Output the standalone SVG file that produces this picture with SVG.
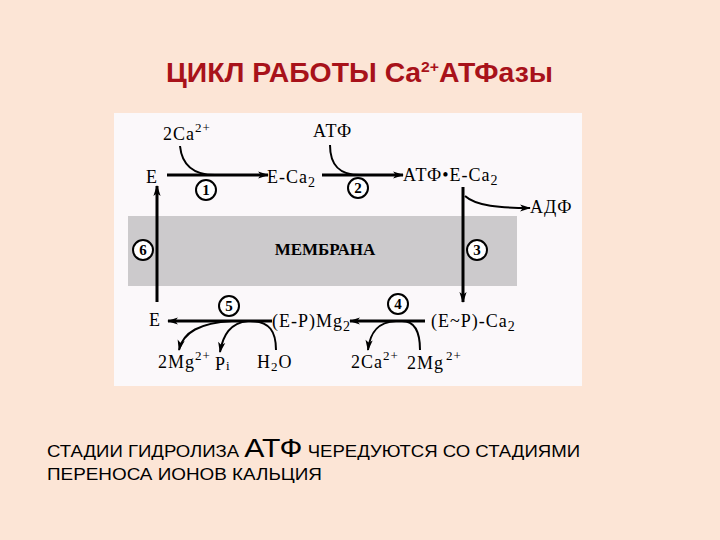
<svg xmlns="http://www.w3.org/2000/svg" width="720" height="540" viewBox="0 0 720 540">
<defs>
<marker id="ah" viewBox="0 0 12 10" refX="11" refY="5" markerWidth="12" markerHeight="9" markerUnits="userSpaceOnUse" orient="auto">
<path d="M0,1 L12,5 L0,9 L3,5 Z" fill="#000"/>
</marker>
<style>
.t{font-family:"Liberation Serif","Times New Roman",serif;font-size:18px;letter-spacing:1px;fill:#000}
.c{fill:#fff;stroke:#000;stroke-width:2}
.n{font-family:"Liberation Serif",serif;font-size:15px;font-weight:bold;text-anchor:middle;fill:#000}
.ln{fill:none;stroke:#000;stroke-width:3}
.cv{fill:none;stroke:#000;stroke-width:2}
.s{font-family:"Liberation Sans",Arial,sans-serif;font-size:16px;fill:#000}
</style>
</defs>
<rect width="720" height="540" fill="#FCE5D6"/>
<rect x="114" y="113" width="468" height="273" fill="#FBF8FA"/>
<rect x="128" y="216" width="389" height="70" fill="#CCCACC"/>
<text x="166" y="82" textLength="387" lengthAdjust="spacingAndGlyphs" font-family="Liberation Sans,Arial,sans-serif" font-weight="bold" font-size="27" fill="#A8121A">ЦИКЛ РАБОТЫ Ca<tspan font-size="15" dy="-10">2+</tspan><tspan dy="10">АТФазы</tspan></text>
<text x="325" y="255" text-anchor="middle" font-family="Liberation Serif,serif" font-weight="bold" font-size="17">МЕМБРАНА</text>
<g id="connectors">
<line class="ln" x1="167" y1="175" x2="268" y2="175" marker-end="url(#ah)"/>
<path class="cv" d="M180,146 C182,166 194,175 215,175"/>
<line class="ln" x1="322" y1="175" x2="403" y2="175" marker-end="url(#ah)"/>
<path class="cv" d="M330,145 C330,166 340,175 360,175"/>
<line class="ln" x1="463" y1="187" x2="463" y2="302" marker-end="url(#ah)"/>
<path class="cv" d="M465,196 C476,206 500,208 530,208" marker-end="url(#ah)"/>
<line class="ln" x1="157" y1="302" x2="157" y2="186" marker-end="url(#ah)"/>
<line class="ln" x1="272" y1="321" x2="168" y2="321" marker-end="url(#ah)"/>
<path class="cv" d="M232,321 C200,323 183,332 179,350" marker-end="url(#ah)"/>
<path class="cv" d="M248,321 C230,323 223,335 220,352" marker-end="url(#ah)"/>
<path class="cv" d="M250,321 C270,321 276,332 276,350"/>
<line class="ln" x1="425" y1="321" x2="350" y2="321" marker-end="url(#ah)"/>
<path class="cv" d="M396,321 C378,322 370,332 368,350" marker-end="url(#ah)"/>
<path class="cv" d="M402,321 C415,321 420,332 420,350"/>
</g>
<g id="n-2ca"><text class="t" x="163" y="140">2Ca<tspan font-size="13" dy="-8">2+</tspan></text></g>
<g id="n-atf"><text class="t" x="313" y="137">АТФ</text></g>
<g id="n-e"><text class="t" x="146" y="183">E</text></g>
<g id="n-eca"><text class="t" x="267" y="183">E-Ca<tspan font-size="14" dy="4">2</tspan></text></g>
<g id="n-atfeca"><text class="t" x="403" y="181">АТФ•Е-Са<tspan font-size="14" dy="4">2</tspan></text></g>
<g id="n-adf"><text class="t" x="530" y="213">АДФ</text></g>
<g id="n-e2"><text class="t" x="149" y="326">E</text></g>
<g id="n-epmg"><text class="t" x="272" y="327">(E-P)Mg<tspan font-size="14" dy="4">2</tspan></text></g>
<g id="n-epca"><text class="t" x="431" y="327">(E~P)-Ca<tspan font-size="14" dy="4">2</tspan></text></g>
<g id="n-2mg"><text class="t" x="158" y="368">2Mg<tspan font-size="13" dy="-8">2+</tspan></text></g>
<g id="n-pi"><text class="t" x="215" y="370">P<tspan font-size="13">i</tspan></text></g>
<g id="n-h2o"><text class="t" x="257" y="368">H<tspan font-size="13" dy="3">2</tspan><tspan dy="-3">O</tspan></text></g>
<g id="n-2ca2"><text class="t" x="351" y="368">2Ca<tspan font-size="13" dy="-8">2+</tspan></text></g>
<g id="n-2mg2"><text class="t" x="407" y="369">2Mg<tspan font-size="13" dx="2" dy="-9">2+</tspan></text></g>
<g id="step1"><circle class="c" cx="206" cy="190" r="10"/><text class="n" x="206" y="195">1</text></g>
<g id="step2"><circle class="c" cx="358" cy="188" r="10"/><text class="n" x="358" y="193">2</text></g>
<g id="step3"><circle class="c" cx="477" cy="250" r="10"/><text class="n" x="477" y="255">3</text></g>
<g id="step4"><circle class="c" cx="398" cy="304" r="10"/><text class="n" x="398" y="309">4</text></g>
<g id="step5"><circle class="c" cx="229" cy="306" r="10"/><text class="n" x="229" y="311">5</text></g>
<g id="step6"><circle class="c" cx="143" cy="250" r="10"/><text class="n" x="143" y="255">6</text></g>
<text class="s" x="47" y="457" textLength="533" lengthAdjust="spacingAndGlyphs">СТАДИИ ГИДРОЛИЗА <tspan font-size="26">АТФ</tspan> ЧЕРЕДУЮТСЯ СО СТАДИЯМИ</text>
<text class="s" x="47" y="480" textLength="275" lengthAdjust="spacingAndGlyphs">ПЕРЕНОСА ИОНОВ КАЛЬЦИЯ</text>
</svg>
